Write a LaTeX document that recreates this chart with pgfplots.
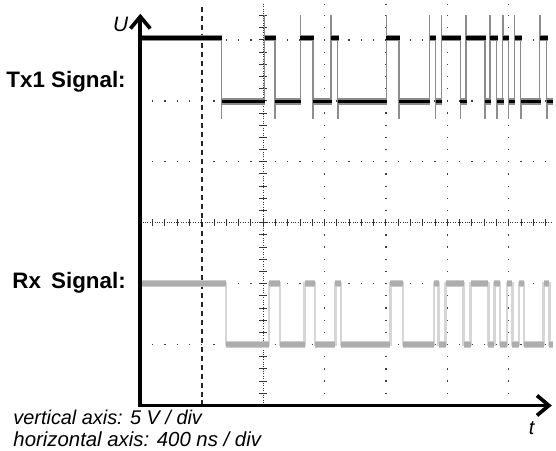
\documentclass[border=0pt]{standalone}
\usepackage{fontspec}
\setmainfont{Liberation Sans}
\usepackage{pgfplots}
\usepackage{pgfplotstable}
\pgfplotsset{compat=1.18}
\usetikzlibrary{arrows.meta}

% Tx1: y has the overshoot spike at each edge, b is the settled level
\pgfplotstableread{
x y b
0 6.03 6.03
1.319 4.72 6.03
1.325 4.99 4.99
2.019 6.40 4.99
2.025 6.03 6.03
2.193 4.72 6.03
2.199 4.99 4.99
2.602 6.40 4.99
2.608 6.03 6.03
2.812 4.72 6.03
2.818 4.99 4.99
3.104 6.40 4.99
3.110 6.03 6.03
3.217 4.72 6.03
3.223 4.99 4.99
4.002 6.40 4.99
4.008 6.03 6.03
4.212 4.72 6.03
4.218 4.99 4.99
4.706 6.40 4.99
4.712 6.03 6.03
4.803 4.72 6.03
4.809 4.99 4.99
4.900 6.40 4.99
4.906 6.03 6.03
5.207 4.72 6.03
5.213 4.99 4.99
5.304 6.40 4.99
5.310 6.03 6.03
5.612 4.72 6.03
5.618 4.99 4.99
5.693 6.40 4.99
5.699 6.03 6.03
5.806 4.72 6.03
5.812 4.99 4.99
5.898 6.40 4.99
5.904 6.03 6.03
5.995 4.72 6.03
6.001 4.99 4.99
6.092 6.40 4.99
6.098 6.03 6.03
6.194 4.72 6.03
6.200 4.99 4.99
6.502 6.40 4.99
6.508 6.03 6.03
6.615 4.72 6.03
6.621 4.99 4.99
6.712 4.99 4.99
}\txdata

\pgfplotstableread{
x y
0 2.0
1.393 1.0
2.092 2.0
2.278 1.0
2.675 2.0
2.845 1.0
3.176 2.0
3.265 1.0
4.071 2.0
4.277 1.0
4.778 2.0
4.859 1.0
4.972 2.0
5.264 1.0
5.377 2.0
5.668 1.0
5.765 2.0
5.854 1.0
5.968 2.0
6.057 1.0
6.162 2.0
6.251 1.0
6.566 2.0
6.660 1.0
6.712 1.0
}\rxdata

\tikzset{
  hdots/.style={black!75, line width=1.3pt, dash pattern=on 1.3pt off 11.06pt, dash phase=0.65pt},
  vdots/.style={black!75, line width=1.3pt, dash pattern=on 1.3pt off 10.96pt, dash phase=0.65pt},
  fine/.style={black!80, line width=0.9pt, dash pattern=on 1pt off 1.4pt},
}

\begin{document}
\begin{tikzpicture}
\begin{axis}[
    x=61.8pt, y=61.3pt,
    xmin=-2.285, xmax=6.712,
    ymin=-0.734, ymax=6.591,
    hide axis,
    clip=false,
]
\path (rel axis cs:0,0) rectangle (rel axis cs:1,1);

% screen grid
\pgfplotsinvokeforeach{1,2,4,5,6}{
  \draw[hdots] (0,#1) -- (6.712,#1);
}
\pgfplotsinvokeforeach{3,4,5,6}{
  \draw[vdots] (#1,0) -- (#1,6.591);
}
\draw[fine] (0,3) -- (6.712,3);
\draw[black!80, line width=7pt, dash pattern=on 1pt off 11.36pt, dash phase=0.5pt] (0,3) -- (6.712,3);
\draw[fine] (2,0) -- (2,6.591);
\draw[black!80, line width=8pt, dash pattern=on 1pt off 11.26pt, dash phase=0.5pt] (2,0) -- (2,6.591);
\draw[black!85, line width=1.6pt, dash pattern=on 5pt off 4pt] (1,0) -- (1,6.55);

% Rx trace
\addplot[black!16, line width=2.5pt, const plot mark left] table {\rxdata};
\addplot[black!20, line width=7pt, jump mark left] table {\rxdata};
\addplot[black!32, line width=4.5pt, jump mark left] table {\rxdata};

% Tx1 trace
\addplot[black!45, line width=1.2pt, const plot mark left] table[x=x, y=y] {\txdata};
\addplot[black!45, line width=6.5pt, jump mark left] table[x=x, y=b] {\txdata};
\addplot[black, line width=3.5pt, jump mark left] table[x=x, y=b] {\txdata};

% axes
\draw[line width=3.7pt, line join=miter,
  {Straight Barb[length=12pt, width=20pt]}-{Straight Barb[length=12pt, width=20pt]}]
  (0,6.43) -- (0,0) -- (6.70,0);

\node[anchor=base east, font=\fontsize{21}{24}\selectfont\itshape] at (-0.14,6.134) {U};
\node[anchor=base, font=\fontsize{20}{23}\selectfont\itshape] at (6.372,-0.473) {t};

\node[anchor=base east, font=\fontsize{22.5}{25}\selectfont\bfseries] at (-0.181,5.215) {Tx1 Signal:};
\node[anchor=base west, font=\fontsize{22.5}{25}\selectfont\bfseries] at (-2.139,1.913) {Rx};
\node[anchor=base east, font=\fontsize{22.5}{25}\selectfont\bfseries] at (-0.181,1.913) {Signal:};

\node[anchor=base west, font=\fontsize{20}{23}\selectfont\itshape] at (-2.123,-0.310) {vertical axis: 5 V / div};
\node[anchor=base west, font=\fontsize{20.5}{23}\selectfont\itshape] at (-2.123,-0.669) {horizontal axis: 400 ns / div};
\end{axis}
\end{tikzpicture}
\end{document}
